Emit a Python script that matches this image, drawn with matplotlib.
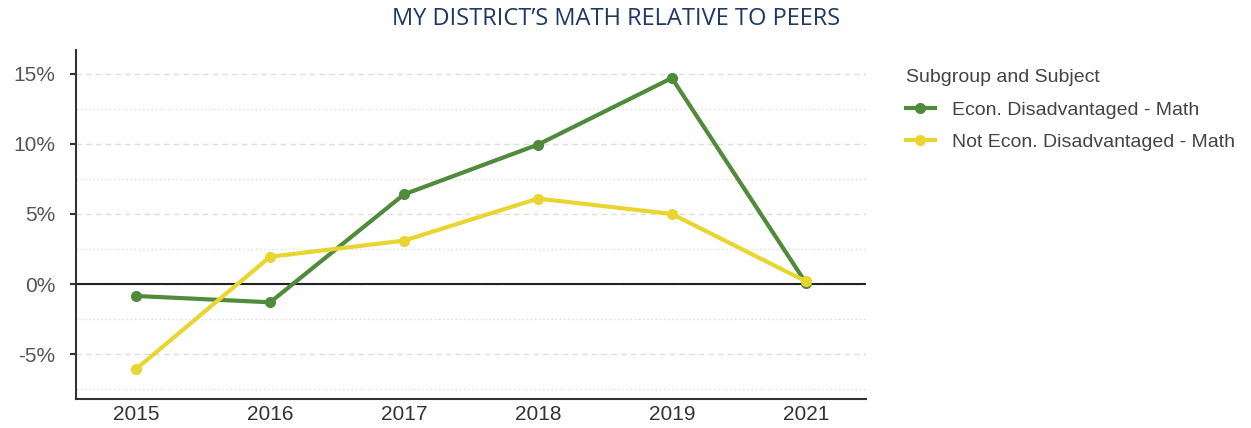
import matplotlib.pyplot as plt
from matplotlib.ticker import FuncFormatter, MultipleLocator

years = ["2015", "2016", "2017", "2018", "2019", "2021"]
econ_dis = [-0.85, -1.3, 6.4, 9.95, 14.7, 0.1]
not_econ_dis = [-6.05, 1.95, 3.1, 6.1, 5.0, 0.2]

green = "#4f8b3b"
yellow = "#e9d530"
font = "Liberation Sans"

fig = plt.figure(figsize=(12.51, 4.28), dpi=100)
ax = fig.add_axes([76 / 1251, 1 - 399 / 428, 790 / 1251, 349 / 428])

x = range(len(years))
ax.plot(x, econ_dis, color=green, lw=3, marker="o", ms=7, label="Econ. Disadvantaged - Math", zorder=3)
ax.plot(x, not_econ_dis, color=yellow, lw=3, marker="o", ms=7, label="Not Econ. Disadvantaged - Math", zorder=3)

ax.set_xlim(-0.45, 5.45)
ax.set_ylim(-8.2, 16.7)
ax.set_xticks(list(x))
ax.set_xticklabels(years)
ax.yaxis.set_major_locator(MultipleLocator(5))
ax.yaxis.set_minor_locator(MultipleLocator(2.5))
ax.yaxis.set_major_formatter(FuncFormatter(lambda v, p: f"{v:.0f}%"))
ax.grid(axis="y", which="major", color="#dddddd", ls=(0, (4, 3)), lw=1)
ax.grid(axis="y", which="minor", color="#dddddd", ls=(0, (1, 2)), lw=1)
ax.axhline(0, color="#222222", lw=1.5, zorder=2)

for s in ["top", "right"]:
    ax.spines[s].set_visible(False)
for s in ["left", "bottom"]:
    ax.spines[s].set_color("#333333")
    ax.spines[s].set_linewidth(1.5)

ax.tick_params(axis="y", which="major", length=4, width=1.5, color="#333333",
               labelsize=15, labelcolor="#555555", pad=11)
ax.tick_params(axis="y", which="minor", length=0)
ax.tick_params(axis="x", length=0, labelsize=15, labelcolor="#333333", pad=4)
for lbl in ax.get_xticklabels() + ax.get_yticklabels():
    lbl.set_family(font)

fig.text(616 / 1251, 1 - 19 / 428, "MY DISTRICT\u2019S MATH RELATIVE TO PEERS",
         ha="center", va="center", fontsize=17, color="#1f3864", family="Open Sans")

leg = ax.legend(loc="upper left", bbox_to_anchor=(888 / 1251, 1 - 52 / 428),
                bbox_transform=fig.transFigure, frameon=False,
                title="Subgroup and Subject", alignment="left",
                prop={"family": font, "size": 14},
                handlelength=1.5, handletextpad=0.9, labelspacing=0.76)
leg.get_title().set_fontsize(14)
leg.get_title().set_family(font)
leg.get_title().set_color("#444444")
for t in leg.get_texts():
    t.set_color("#444444")

fig.savefig("out.png", dpi=100)
